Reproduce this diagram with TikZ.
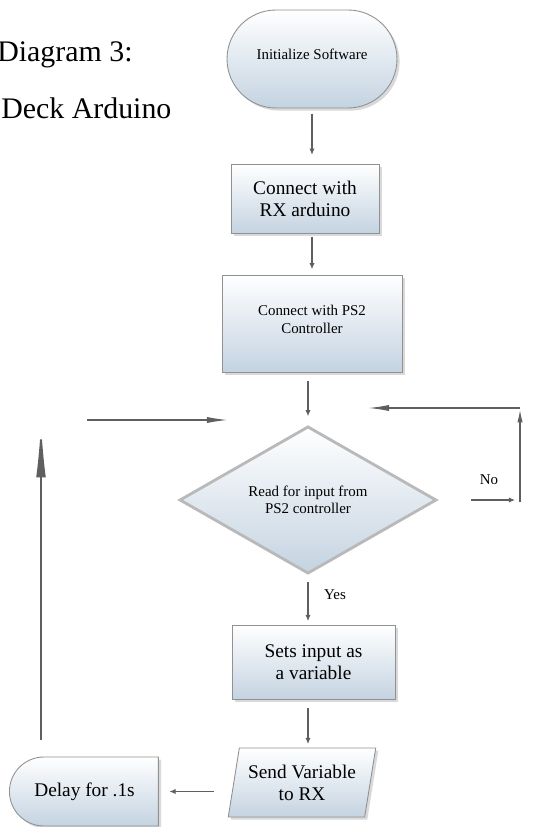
\documentclass[tikz,border=0pt]{standalone}
\usepackage{fontspec}
\setmainfont{Liberation Serif}
\usetikzlibrary{arrows.meta,shadows,shapes.geometric,shapes.misc}
\definecolor{boxblue}{RGB}{196,211,225}
\definecolor{boxedge}{RGB}{145,145,145}
\definecolor{flowgray}{RGB}{95,95,95}
\definecolor{diaedge}{RGB}{185,185,185}
\tikzset{
	stepbox/.style={draw=boxedge, line width=0.5pt, top color=white, bottom color=boxblue,
		drop shadow={opacity=0.3, shadow xshift=1.5pt, shadow yshift=-1.5pt},
		align=center, inner sep=0pt},
	flow/.style={draw=flowgray, line width=0.6pt, -{Latex[length=3.5pt,width=3pt]}},
	longflow/.style={draw=flowgray, line width=0.8pt, -{Latex[length=12pt,width=3.5pt]}},
	bigtxt/.style={font=\fontsize{11}{12.5}\selectfont},
	smalltxt/.style={font=\fontsize{8.5}{10}\selectfont},
}

\begin{document}
\begin{tikzpicture}[x=0.02cm, y=-0.02cm]
		%%%%% START %%%%%
		\useasboundingbox (0,0) rectangle (535,827);
		
		\node[anchor=base west, inner sep=0pt, font=\fontsize{17}{20}\selectfont] (title) at (-3,62) {Diagram 3:};
		\node[anchor=base west, inner sep=0pt, font=\fontsize{17}{20}\selectfont] (deck) at (1,119) {Deck Arduino};
		
		\node[stepbox, smalltxt, rounded rectangle, minimum width=3.4cm, minimum height=1.96cm] (init) at (312,59) {Initialize Software\\[-5pt]};
		\node[stepbox, bigtxt, rectangle, minimum width=2.96cm, minimum height=1.38cm] (rx) at (305,198.5) {Connect with\\RX arduino};
		\node[stepbox, smalltxt, rectangle, minimum width=3.6cm, minimum height=1.94cm] (ps2) at (312,323.5) {Connect with PS2\\Controller\\[-5pt]};
		\node[diamond, draw=diaedge, line width=1.6pt, top color=white, bottom color=boxblue, smalltxt,
			align=center, inner sep=0pt, minimum width=5.14cm, minimum height=2.72cm] (read) at (308,500) {Read for input from\\PS2 controller};
		\node[stepbox, bigtxt, rectangle, minimum width=3.26cm, minimum height=1.48cm] (sets) at (313.5,662) {Sets input as\\a variable};
		\node[stepbox, bigtxt, trapezium, trapezium left angle=75, trapezium right angle=105, trapezium stretches=true,
			minimum width=2.96cm, minimum height=1.38cm] (send) at (302,782.5) {Send Variable\\to RX};
		\node[stepbox, bigtxt, rounded rectangle, rounded rectangle right arc=none, minimum width=2.98cm, minimum height=1.38cm] (delay) at (84.5,791.5) {Delay for .1s};
		
		% main line
		\draw[flow, shorten <=3pt, shorten >=5pt] (init.south) -- (init.south |- rx.north);
		\draw[flow, shorten <=2pt, shorten >=3pt] (rx.south -| init.south) -- (init.south |- ps2.north);
		\draw[flow, shorten <=5pt, shorten >=5pt] (ps2.south -| read.north) -- (read.north);
		\draw[flow, shorten <=4pt, shorten >=2pt] (read.south) -- (read.south |- sets.north);
		\draw[flow, shorten <=5pt, shorten >=2pt] (sets.south -| read.south) -- (read.south |- send.north);
		\draw[flow, shorten <=11pt, shorten >=6pt] (delay.east -| send.west) -- (delay.east);
		\node[smalltxt] (yes) at (335,595) {Yes};
		
		% no branch
		\coordinate (nohead) at (515,500);
		\coordinate (nolow) at (520,502);
		\coordinate (noup) at (520,410);
		\coordinate (noback) at (520,408);
		\coordinate (noend) at (368,408);
		\draw[flow, shorten <=19pt] (read.east) -- (nohead);
		\draw[flow, -{Latex[length=7pt,width=3pt]}] (nolow) -- (noup);
		\draw[longflow] (noback) -- (noend);
		\node[smalltxt] (no) at (489,480) {No};
		
		% loop back
		\coordinate (loopbot) at (41,740);
		\coordinate (looptop) at (41,423);
		\coordinate (loopleft) at (87,420);
		\coordinate (loopright) at (228,420);
		\draw[flow, line width=1.1pt, -{Latex[length=31pt,width=5.5pt]}] (loopbot) -- (looptop);
		\draw[longflow] (loopleft) -- (loopright);
		
		%%%%% END %%%%%
\end{tikzpicture}
\end{document}
